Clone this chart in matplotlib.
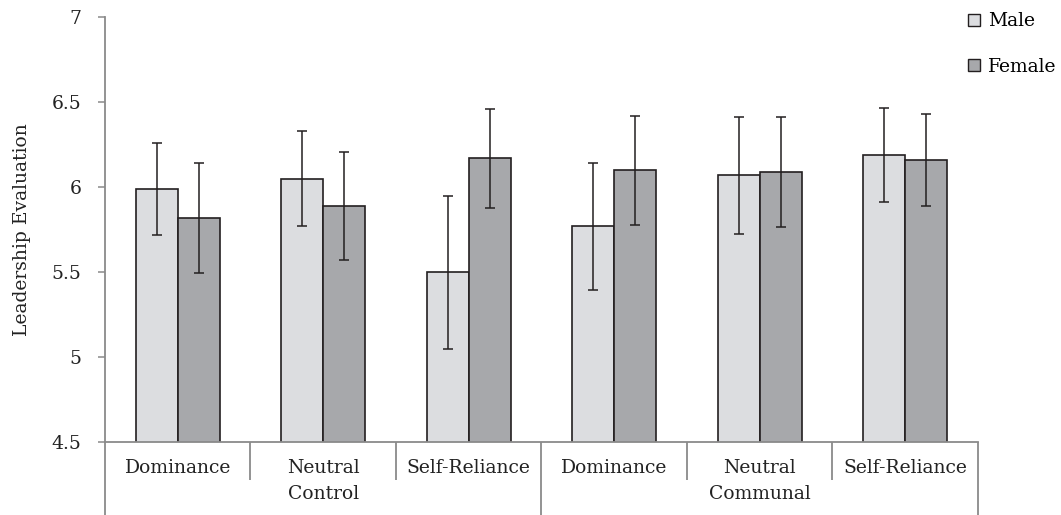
import numpy as np
import matplotlib
matplotlib.use("Agg")
import matplotlib.pyplot as plt
import matplotlib.patches as mpatches
import matplotlib.transforms as mtransforms

plt.rcParams["font.family"] = ["DejaVu Serif"]

# data
conditions = ["Dominance", "Neutral", "Self-Reliance", "Dominance", "Neutral", "Self-Reliance"]
groups = ["Control", "Communal"]
male = [5.99, 6.05, 5.50, 5.77, 6.07, 6.19]
female = [5.82, 5.89, 6.17, 6.10, 6.09, 6.16]
male_err = [0.27, 0.28, 0.45, 0.375, 0.345, 0.275]
female_err = [0.325, 0.32, 0.29, 0.32, 0.325, 0.27]

male_color = "#dcdde0"
female_color = "#a7a8ab"
edge = "#231f20"
axis_gray = "#8a8a8a"
fs = 13.5

fig = plt.figure(figsize=(10.61, 5.15), dpi=100)
ax = fig.add_axes([105 / 1061, 1 - 442 / 515, (978 - 105) / 1061, (442 - 17.5) / 515])

x = np.arange(len(conditions)) + 0.5
w = 0.29
err_kw = dict(ecolor=edge, elinewidth=1.1, capsize=3.5, capthick=1.1)
ax.bar(x - w / 2, male, w, color=male_color, edgecolor=edge, linewidth=1.2,
       yerr=male_err, error_kw=err_kw, label="Male", zorder=2)
ax.bar(x + w / 2, female, w, color=female_color, edgecolor=edge, linewidth=1.2,
       yerr=female_err, error_kw=err_kw, label="Female", zorder=2)

ax.set_xlim(0, len(conditions))
ax.set_ylim(4.5, 7)
ax.set_yticks([4.5, 5, 5.5, 6, 6.5, 7])
ax.set_yticklabels(["4.5", "5", "5.5", "6", "6.5", "7"])
ax.tick_params(axis="y", direction="out", length=5, width=1.1, color=axis_gray,
               pad=12, labelsize=fs, labelcolor="#222222")
ax.set_xticks([])

for s in ["top", "right"]:
    ax.spines[s].set_visible(False)
for s in ["left", "bottom"]:
    ax.spines[s].set_color(axis_gray)
    ax.spines[s].set_linewidth(1.3)

ax.set_ylabel("Leadership Evaluation", fontsize=fs, color="#222222", labelpad=15)

# category separators and labels below the axis
trans = mtransforms.blended_transform_factory(ax.transData, ax.transAxes)
inner_drop = -38 / 424.5
outer_drop = -74 / 424.5
for b in range(len(conditions) + 1):
    drop = outer_drop if b % 3 == 0 else inner_drop
    ax.plot([b, b], [0, drop], transform=trans, color=axis_gray, lw=1.3,
            clip_on=False, solid_capstyle="butt")
for xi, lab in zip(x, conditions):
    ax.text(xi, -26 / 424.5, lab, transform=trans, ha="center", va="center",
            fontsize=fs, color="#222222")
for gi, g in enumerate(groups):
    ax.text(3 * gi + 1.5, -52 / 424.5, g, transform=trans, ha="center", va="center",
            fontsize=fs, color="#222222")

handles = [mpatches.Patch(facecolor=male_color, edgecolor=edge, linewidth=1, label="Male"),
           mpatches.Patch(facecolor=female_color, edgecolor=edge, linewidth=1, label="Female")]
fig.legend(handles=handles, loc="upper left", bbox_to_anchor=(960 / 1061, 1 - 5 / 515),
           frameon=False, fontsize=fs, handlelength=0.65, handleheight=0.65,
           handletextpad=0.45, labelspacing=1.45, borderaxespad=0)

fig.savefig("out.png", dpi=100)
